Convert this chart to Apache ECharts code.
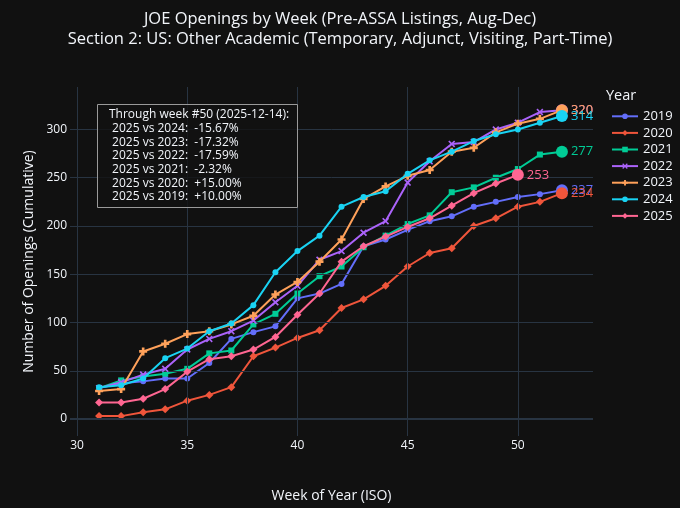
<!DOCTYPE html>
<html>
<head>
<meta charset="utf-8">
<title>JOE Openings by Week</title>
<script src="https://cdn.jsdelivr.net/npm/echarts@6/dist/echarts.min.js"></script>
<style>
    html, body { margin: 0; padding: 0; background: #111111; }
    #chart { width: 680px; height: 508px; }
</style>
</head>
<body>
<div id="chart"></div>
<script>
// data
const weeks = [31, 32, 33, 34, 35, 36, 37, 38, 39, 40, 41, 42, 43, 44, 45, 46, 47, 48, 49, 50, 51, 52];
const years = ['2019', '2020', '2021', '2022', '2023', '2024', '2025'];
const v2019 = [32, 37, 39, 42, 42, 58, 83, 90, 96, 125, 130, 140, 179, 186, 196, 205, 210, 220, 225, 230, 233, 237];
const v2020 = [3, 3, 7, 10, 19, 25, 33, 65, 74, 84, 92, 115, 124, 138, 158, 172, 177, 200, 208, 220, 225, 234];
const v2021 = [32, 40, 44, 47, 52, 68, 71, 98, 109, 130, 148, 158, 178, 190, 202, 211, 235, 240, 250, 259, 274, 277];
const v2022 = [32, 38, 46, 52, 72, 83, 91, 102, 121, 138, 165, 174, 193, 205, 245, 267, 285, 287, 300, 307, 318, 320];
const v2023 = [29, 31, 70, 78, 88, 91, 98, 107, 129, 142, 163, 186, 228, 241, 252, 258, 277, 281, 297, 306, 311, 320];
const v2024 = [33, 35, 42, 63, 73, 91, 99, 118, 152, 174, 190, 220, 230, 236, 254, 268, 277, 288, 295, 300, 307, 314];
const v2025 = [17, 17, 21, 31, 49, 62, 65, 72, 85, 108, 130, 163, 179, 189, 199, 208, 221, 234, 244, 253];
const xTicks = [30, 35, 40, 45, 50];
const yTicks = [0, 50, 100, 150, 200, 250, 300];
const titleLines = [
    'JOE Openings by Week (Pre-ASSA Listings, Aug-Dec)',
    'Section 2: US: Other Academic (Temporary, Adjunct, Visiting, Part-Time)'
];
const noteLines = [
    'Through week #50 (2025-12-14):',
    ' 2025 vs 2024:  -15.67%',
    ' 2025 vs 2023:  -17.32%',
    ' 2025 vs 2022:  -17.59%',
    ' 2025 vs 2021:  -2.32%',
    ' 2025 vs 2020:  +15.00%',
    ' 2025 vs 2019:  +10.00%'
];

const values = [v2019, v2020, v2021, v2022, v2023, v2024, v2025];
const colors = ['#636efa', '#EF553B', '#00cc96', '#ab63fa', '#FFA15A', '#19d3f3', '#FF6692'];
const xPath = 'path://M-3,-2L-2,-3L0,-1L2,-3L3,-2L1,0L3,2L2,3L0,1L-2,3L-3,2L-1,0Z';
const plusPath = 'path://M-1,-3H1V-1H3V1H1V3H-1V1H-3V-1H-1Z';
const symbols = ['circle', 'diamond', 'rect', xPath, plusPath, 'circle', 'diamond'];
const symbolSizes = [6, 8, 6, 7, 8, 6, 8];

const textColor = '#f2f5fa';
const gridColor = '#283442';
const font = '"Open Sans", Verdana, Arial, sans-serif';

const chart = echarts.init(document.getElementById('chart'));

// background grid lines, drawn through the axes
const gridSeries = {
    type: 'line',
    data: [],
    silent: true,
    z: 0,
    markLine: {
        silent: true,
        animation: false,
        symbol: ['none', 'none'],
        label: { show: false },
        lineStyle: { color: gridColor, type: 'solid', width: 1 },
        data: xTicks.map(v => ({ xAxis: v }))
            .concat(yTicks.map(v => ({ yAxis: v, lineStyle: { width: v === 0 ? 2 : 1 } })))
    }
};

const yearSeries = years.map((name, s) => {
    const vals = values[s];
    const data = vals.map((v, i) => [weeks[i], v]);
    const last = data.length - 1;
    data[last] = {
        value: data[last],
        symbol: 'circle',
        symbolSize: 12,
        label: {
            show: true,
            position: 'right',
            distance: 3,
            color: colors[s],
            fontSize: 13,
            fontFamily: font,
            formatter: p => p.value[1]
        }
    };
    return {
        name: name,
        type: 'line',
        data: data,
        symbol: symbols[s],
        symbolSize: symbolSizes[s],
        color: colors[s],
        lineStyle: { width: 2 },
        itemStyle: { borderWidth: 0 },
        emphasis: { disabled: true },
        z: 2 + s
    };
});

const option = {
    backgroundColor: '#111111',
    animation: false,
    textStyle: { fontFamily: font },
    grid: { left: 70, right: 87, top: 87, bottom: 71 },
    xAxis: {
        type: 'value',
        min: 29.68,
        max: 53.41,
        name: 'Week of Year (ISO)',
        nameLocation: 'middle',
        nameGap: 53,
        nameTextStyle: { color: textColor, fontSize: 14, fontFamily: font },
        axisLine: { show: false },
        axisTick: { show: false },
        splitLine: { show: false },
        axisLabel: {
            customValues: xTicks,
            color: textColor,
            fontSize: 12,
            margin: 4,
            fontFamily: font
        }
    },
    yAxis: {
        type: 'value',
        min: -17.6,
        max: 344,
        name: 'Number of Openings (Cumulative)',
        nameLocation: 'middle',
        nameGap: 33,
        nameTextStyle: { color: textColor, fontSize: 14, fontFamily: font },
        axisLine: { show: false },
        axisTick: { show: false },
        splitLine: { show: false },
        axisLabel: {
            customValues: yTicks,
            color: textColor,
            fontSize: 12,
            margin: 3,
            fontFamily: font
        }
    },
    legend: {
        data: years,
        orient: 'vertical',
        left: 606,
        top: 103,
        itemWidth: 26,
        itemHeight: 7,
        itemGap: 0,
        selectedMode: false,
        textStyle: { color: textColor, fontSize: 13, lineHeight: 16.6, fontFamily: font }
    },
    graphic: [
        {
            type: 'text', left: 'center', top: 11,
            style: { text: titleLines[0], fill: textColor, fontSize: 16.5, fontFamily: font }
        },
        {
            type: 'text', left: 'center', top: 30.5,
            style: { text: titleLines[1], fill: textColor, fontSize: 16.5, fontFamily: font }
        },
        {
            type: 'text', left: 606, top: 88,
            style: { text: 'Year', fill: textColor, fontSize: 14.5, fontFamily: font }
        },
        {
            type: 'rect', left: 97, top: 104,
            shape: { width: 200, height: 103 },
            style: { fill: 'rgba(17,17,17,0.8)', stroke: '#9a9a9a', lineWidth: 1 },
            z: 100
        },
        {
            type: 'text', left: 109, top: 108,
            style: {
                text: noteLines.join('\n'),
                fill: textColor,
                fontSize: 12,
                lineHeight: 13.7,
                fontFamily: font
            },
            z: 101
        }
    ],
    series: [gridSeries].concat(yearSeries)
};

chart.setOption(option);

window.addEventListener('resize', function() {
    chart.resize();
});
</script>
</body>
</html>
